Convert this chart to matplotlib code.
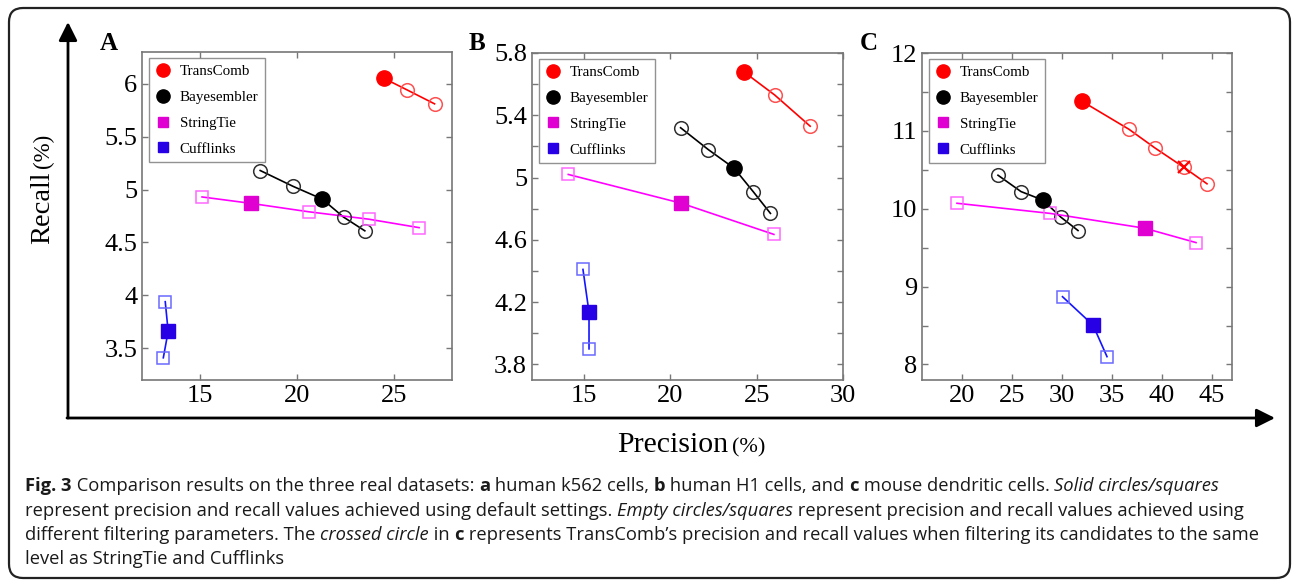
import matplotlib
matplotlib.use("Agg")
import matplotlib.pyplot as plt
from matplotlib.lines import Line2D
from matplotlib.patches import FancyBboxPatch

# ----------------------- data (precision %, recall %) -----------------------
methods = ["TransComb", "Bayesembler", "StringTie", "Cufflinks"]

# panel A: human k562
a_trans_p = [24.5, 25.7, 27.1]
a_trans_r = [6.05, 5.94, 5.81]
a_bayes_p = [18.1, 19.8, 21.3, 22.4, 23.5]
a_bayes_r = [5.18, 5.03, 4.91, 4.74, 4.61]
a_string_p = [15.1, 17.6, 20.6, 23.7, 26.3]
a_string_r = [4.93, 4.87, 4.79, 4.72, 4.64]
a_cuff_p = [13.2, 13.35, 13.1]
a_cuff_r = [3.94, 3.66, 3.41]
a_default = [0, 2, 1, 1]  # index of the default-setting point per method
a_xticks = [15, 20, 25]
a_yticks = [3.5, 4, 4.5, 5, 5.5, 6]
a_ylabels = ["3.5", "4", "4.5", "5", "5.5", "6"]

# panel B: human H1
b_trans_p = [24.25, 26.05, 28.1]
b_trans_r = [5.68, 5.53, 5.33]
b_bayes_p = [20.6, 22.2, 23.7, 24.8, 25.8]
b_bayes_r = [5.32, 5.18, 5.06, 4.91, 4.77]
b_string_p = [14.1, 20.65, 26.0]
b_string_r = [5.02, 4.835, 4.635]
b_cuff_p = [14.95, 15.3, 15.3]
b_cuff_r = [4.41, 4.135, 3.90]
b_default = [0, 2, 1, 1]
b_xticks = [15, 20, 25, 30]
b_yticks = [3.8, 4.0, 4.2, 4.4, 4.6, 4.8, 5.0, 5.2, 5.4, 5.6, 5.8]
b_ylabels = ["3.8", "", "4.2", "", "4.6", "", "5", "", "5.4", "", "5.8"]

# panel C: mouse dendritic
c_trans_p = [32.0, 36.7, 39.3, 42.2, 44.5]
c_trans_r = [11.38, 11.02, 10.78, 10.53, 10.32]
c_bayes_p = [23.6, 25.9, 28.1, 29.9, 31.6]
c_bayes_r = [10.43, 10.22, 10.11, 9.89, 9.72]
c_string_p = [19.5, 28.8, 38.25, 43.4]
c_string_r = [10.07, 9.94, 9.75, 9.565]
c_cuff_p = [30.05, 33.1, 34.5]
c_cuff_r = [8.87, 8.505, 8.10]
c_default = [0, 2, 2, 1]
c_crossed = 3  # TransComb point filtered to the StringTie/Cufflinks level
c_xticks = [20, 25, 30, 35, 40, 45]
c_yticks = [8, 8.5, 9, 9.5, 10, 10.5, 11, 11.5, 12]
c_ylabels = ["8", "", "9", "", "10", "", "11", "", "12"]

line_colors = ["#ff0000", "#000000", "#ff00ff", "#1414ff"]
fill_colors = ["#ff0000", "#000000", "#e000d2", "#2800e6"]
edge_colors = ["#ff5050", "#303030", "#ff66ff", "#6a6aff"]
shapes = ["o", "o", "s", "s"]

W, H = 1292, 584
SERIF = "Liberation Serif"

fig = plt.figure(figsize=(W / 100, H / 100), dpi=100)
fig.patch.set_facecolor("white")
renderer = fig.canvas.get_renderer()

# full-figure overlay in pixel coordinates for arrows, labels and caption
ov = fig.add_axes([0, 0, 1, 1], zorder=-1)
ov.set_xlim(0, W)
ov.set_ylim(H, 0)
ov.axis("off")

ov.add_patch(FancyBboxPatch((9, 8), 1281, 570, boxstyle="round,pad=0,rounding_size=14",
                            fc="none", ec="#222222", lw=1.6))
ov.annotate("", xy=(68, 22), xytext=(68, 418),
            arrowprops=dict(arrowstyle="-|>", mutation_scale=28, lw=2, color="k", shrinkA=0, shrinkB=0))
ov.annotate("", xy=(1275, 418), xytext=(67, 418),
            arrowprops=dict(arrowstyle="-|>", mutation_scale=28, lw=2, color="k", shrinkA=0, shrinkB=0))

# axis titles
t = ov.text(49, 244, "Recall", rotation=90, ha="left", va="baseline", fontsize=20.5,
            family=SERIF, rotation_mode="anchor")
top = H - t.get_window_extent(renderer).y1
ov.text(49, top - 3, "(%)", rotation=90, ha="left", va="baseline", fontsize=16.5,
        family=SERIF, rotation_mode="anchor")
t = ov.text(617, 452, "Precision", ha="left", va="baseline", fontsize=21.5, family=SERIF)
ov.text(t.get_window_extent(renderer).x1 + 4, 452, "(%)", ha="left", va="baseline",
        fontsize=16, family=SERIF)

for letter, x in zip("ABC", [109, 477, 869]):
    ov.text(x, 43, letter, ha="center", va="center", fontsize=18, fontweight="bold",
            family=SERIF)


def panel(rect, xlim, ylim, xticks, yticks, ylabels, pts, default, crossed=None):
    l, r, t, b = rect
    ax = fig.add_axes([l / W, (H - b) / H, (r - l) / W, (b - t) / H])
    for i, (px, py) in enumerate(pts):
        ax.plot(px, py, "-", color=line_colors[i], lw=1.2, zorder=2)
        for j in range(len(px)):
            if j == default[i]:
                ms = 11 if shapes[i] == "o" else 9.5
                ax.plot(px[j], py[j], shapes[i], ms=ms, mfc=fill_colors[i],
                        mec=fill_colors[i], zorder=4)
            else:
                ms = 9.8 if shapes[i] == "o" else 8.5
                ax.plot(px[j], py[j], shapes[i], ms=ms, mfc="none",
                        mec=edge_colors[i], mew=1.1, zorder=3)
    if crossed is not None:
        px, py = pts[0]
        ax.plot(px[crossed], py[crossed], "x", ms=8, mew=1.6, color=line_colors[0], zorder=5)

    ax.set_xlim(*xlim)
    ax.set_ylim(*ylim)
    ax.set_xticks(xticks)
    ax.set_xticklabels([str(v) for v in xticks])
    ax.set_yticks(yticks)
    ax.set_yticklabels(ylabels)
    ax.tick_params(direction="in", length=4, width=1, color="#777777", top=True, right=True,
                   labelsize=19, pad=3.5)
    for lab in ax.get_xticklabels() + ax.get_yticklabels():
        lab.set_family(SERIF)
    for s in ax.spines.values():
        s.set_color("#777777")
        s.set_linewidth(1.2)

    handles = [Line2D([], [], ls="none", marker=shapes[i], ms=9.5 if shapes[i] == "o" else 7.5,
                      mfc=fill_colors[i], mec=fill_colors[i]) for i in range(4)]
    leg = ax.legend(handles, methods, loc="upper left", bbox_to_anchor=(0.022, 0.982),
                    borderaxespad=0, frameon=True, fancybox=False, handlelength=1.0,
                    handletextpad=0.6, labelspacing=0.82, borderpad=0.45,
                    prop={"family": SERIF, "size": 10.8})
    leg.get_frame().set_edgecolor("#777777")
    leg.get_frame().set_linewidth(1.0)
    return ax


panel((142, 452, 52, 380), (12, 28), (3.2, 6.3), a_xticks, a_yticks, a_ylabels,
      [(a_trans_p, a_trans_r), (a_bayes_p, a_bayes_r), (a_string_p, a_string_r), (a_cuff_p, a_cuff_r)],
      a_default)
panel((532, 843, 53, 380), (12, 30), (3.7, 5.8), b_xticks, b_yticks, b_ylabels,
      [(b_trans_p, b_trans_r), (b_bayes_p, b_bayes_r), (b_string_p, b_string_r), (b_cuff_p, b_cuff_r)],
      b_default)
panel((922, 1232, 53, 380), (16, 47), (7.8, 12), c_xticks, c_yticks, c_ylabels,
      [(c_trans_p, c_trans_r), (c_bayes_p, c_bayes_r), (c_string_p, c_string_r), (c_cuff_p, c_cuff_r)],
      c_default, crossed=c_crossed)

# ----------------------- caption -----------------------
N, B, I = "normal", "bold", "italic"
caption = [
    [("Fig. 3", B), (" Comparison results on the three real datasets: ", N), ("a", B),
     (" human k562 cells, ", N), ("b", B), (" human H1 cells, and ", N), ("c", B),
     (" mouse dendritic cells. ", N), ("Solid circles/squares", I)],
    [("represent precision and recall values achieved using default settings. ", N),
     ("Empty circles/squares", I), (" represent precision and recall values achieved using", N)],
    [("different filtering parameters. The ", N), ("crossed circle", I), (" in ", N), ("c", B),
     (" represents TransComb\u2019s precision and recall values when filtering its candidates to the same", N)],
    [("level as StringTie and Cufflinks", N)],
]
baselines = [491, 515.5, 540, 564]
for runs, yb in zip(caption, baselines):
    x = 25
    for s, style in runs:
        kw = dict(fontsize=13.25, family="Open Sans", va="baseline", ha="left", color="#1a1a1a")
        if style == B:
            kw["fontweight"] = "bold"
        if style == I:
            kw["fontstyle"] = "italic"
        t = ov.text(x, yb, s.replace(" ", "\u00a0"), **kw)
        x = t.get_window_extent(renderer).x1

fig.savefig("out.png", dpi=100, facecolor="white")
